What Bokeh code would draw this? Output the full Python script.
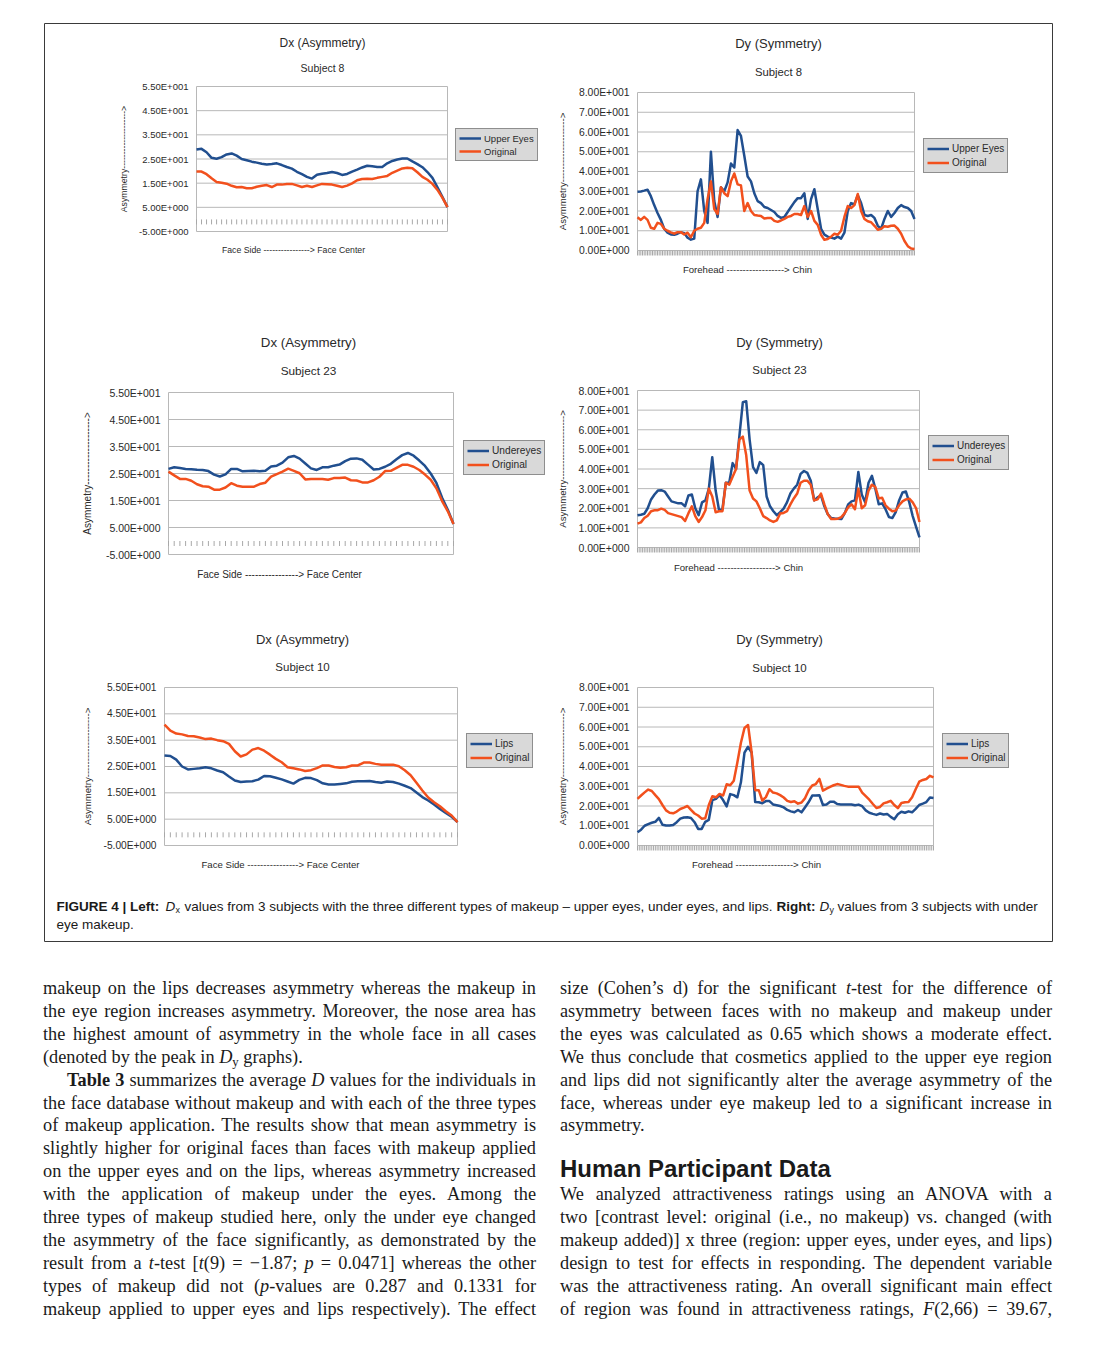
import math
from bokeh.plotting import figure
from bokeh.models import Range1d, Legend, LegendItem, Label, Div, Spacer, ColumnDataSource
from bokeh.layouts import column, row
from bokeh.core.properties import value
from bokeh.embed import file_html
from bokeh.resources import INLINE

# ---------------- data ----------------
dx_ticks = [-5, 5, 15, 25, 35, 45, 55]
dx_tick_labels = ["-5.00E+000", "5.00E+000", "1.50E+001", "2.50E+001",
                  "3.50E+001", "4.50E+001", "5.50E+001"]
dy_ticks = [0, 10, 20, 30, 40, 50, 60, 70, 80]
dy_tick_labels = ["0.00E+000", "1.00E+001", "2.00E+001", "3.00E+001", "4.00E+001",
                  "5.00E+001", "6.00E+001", "7.00E+001", "8.00E+001"]

s8_dx_upper = [28.9, 29.2, 27.8, 25.5, 25.1, 25.8, 26.9, 27.3, 26.4, 25.0,
               24.5, 23.9, 23.5, 23.0, 22.7, 22.9, 23.2, 22.5, 21.7, 21.0,
               19.7, 18.7, 17.6, 16.9, 18.5, 18.9, 19.2, 19.6, 19.2, 18.4,
               18.8, 19.8, 20.6, 21.5, 22.2, 22.0, 21.7, 21.7, 23.2, 24.2,
               24.8, 25.2, 25.2, 24.0, 22.9, 21.6, 19.6, 17.2, 13.3, 9.2, 5.1]
s8_dx_orig = [19.8, 19.8, 18.7, 17.0, 15.5, 15.2, 14.8, 13.9, 13.3, 13.4,
              12.9, 12.9, 13.5, 13.9, 14.2, 13.4, 14.4, 14.4, 14.7, 14.7,
              14.1, 13.4, 13.9, 13.4, 14.1, 14.7, 14.6, 14.4, 13.9, 13.4,
              14.0, 14.9, 16.2, 16.7, 16.8, 16.7, 17.2, 17.6, 18.0, 19.3,
              20.2, 21.1, 21.4, 21.2, 19.5, 17.6, 16.4, 14.7, 12.2, 8.9, 5.1]
s23_dx_under = [26.7, 27.3, 27.0, 26.7, 26.6, 26.4, 26.3, 25.9, 24.6, 23.9,
                24.7, 26.7, 26.7, 25.8, 25.9, 26.0, 25.8, 26.0, 27.6, 27.9,
                29.0, 31.0, 31.5, 30.5, 28.7, 26.9, 26.3, 27.3, 27.3, 27.9,
                28.3, 29.6, 30.5, 30.6, 30.1, 28.3, 26.5, 26.7, 27.5, 28.6,
                30.3, 31.8, 32.6, 31.6, 29.8, 27.8, 25.0, 21.5, 16.0, 11.6, 6.3]
s23_dx_orig = [25.7, 24.3, 23.0, 23.0, 22.3, 21.0, 20.3, 20.1, 19.0, 19.0,
               19.8, 21.4, 20.5, 20.1, 20.1, 20.1, 21.1, 21.6, 23.8, 24.8,
               25.7, 26.8, 26.0, 25.1, 22.8, 23.0, 23.0, 23.0, 22.7, 23.3,
               23.3, 23.5, 22.5, 22.4, 21.7, 21.7, 22.5, 23.8, 25.9, 26.0,
               27.1, 28.2, 28.2, 27.5, 26.3, 24.6, 22.7, 19.5, 14.8, 11.0, 6.3]
s10_dx_lips = [29.2, 29.0, 27.6, 25.0, 23.9, 24.1, 24.3, 24.7, 24.3, 23.5,
               22.8, 21.2, 19.7, 19.1, 19.3, 19.4, 20.0, 21.4, 21.3, 20.7,
               20.1, 19.3, 18.5, 19.9, 20.7, 20.6, 19.8, 18.6, 18.2, 18.2,
               18.4, 18.6, 19.2, 19.4, 19.4, 19.5, 19.1, 18.8, 19.3, 19.1,
               18.5, 17.7, 16.8, 15.1, 13.4, 12.1, 10.6, 8.9, 7.4, 5.9, 3.9]
s10_dx_orig = [40.9, 38.6, 37.5, 37.2, 36.6, 36.5, 36.0, 35.4, 35.6, 35.0,
               34.6, 33.6, 30.8, 28.8, 29.6, 31.4, 32.0, 31.0, 29.5, 27.9,
               26.6, 24.7, 24.3, 23.9, 23.3, 23.6, 24.4, 25.4, 25.4, 24.8,
               24.5, 24.7, 25.4, 25.4, 26.5, 26.5, 26.0, 25.7, 25.7, 25.7,
               25.1, 23.6, 21.7, 18.8, 15.9, 13.2, 11.4, 9.9, 8.0, 6.4, 3.9]

s8_dy_upper = [29.8, 29.9, 30.3, 30.8, 27.5, 23.0, 19.0, 15.5, 11.0, 9.0,
               8.1, 8.0, 8.5, 9.3, 8.8, 6.5, 5.5, 6.0, 30.0, 36.0,
               20.0, 14.0, 50.0, 25.0, 17.0, 32.0, 30.0, 34.5, 44.0, 42.0,
               61.0, 58.0, 48.0, 37.5, 35.0, 29.0, 25.0, 24.0, 22.0, 21.5,
               20.5, 19.5, 17.5, 16.5, 17.0, 19.5, 22.0, 24.5, 26.5, 26.5,
               29.0, 16.0, 26.0, 31.0, 21.0, 11.0, 8.0, 7.0, 6.5, 6.0,
               7.0, 6.0, 9.0, 20.0, 24.0, 23.5, 28.0, 24.0, 18.0, 17.5,
               18.0, 16.5, 12.5, 11.0, 16.0, 20.0, 17.0, 19.0, 21.5, 23.0,
               22.0, 21.5, 20.0, 16.0]
s8_dy_orig = [16.8, 15.5, 17.0, 15.5, 11.5, 11.0, 14.0, 13.5, 11.0, 10.0,
              9.2, 8.5, 9.3, 9.3, 8.1, 9.0, 6.7, 10.0, 11.0, 11.5,
              14.0, 26.0, 35.0, 21.0, 18.5, 32.0, 29.0, 27.5, 35.0, 39.0,
              33.5, 33.0, 20.0, 24.0, 20.0, 18.0, 17.7, 17.5, 16.2, 16.5,
              16.5, 15.0, 14.5, 15.2, 16.0, 17.0, 17.5, 18.5, 18.5, 18.0,
              22.5, 17.0, 20.0, 15.0, 13.0, 8.0, 5.4, 5.8, 7.0, 8.5,
              8.0, 10.0, 17.0, 22.5, 21.5, 23.0, 28.6, 20.0, 16.0, 14.8,
              14.3, 12.5, 10.5, 11.0, 12.3, 12.0, 12.5, 12.6, 11.0, 8.5,
              4.8, 2.2, 1.0, 0.8]
s23_dy_under = [16.4, 16.7, 17.2, 20.0, 24.5, 27.0, 29.0, 29.2, 28.5, 26.0,
                23.5, 23.0, 22.5, 22.5, 21.0, 26.5, 27.0, 20.0, 16.5, 23.0,
                24.0, 30.0, 46.0, 29.0, 19.0, 19.5, 33.0, 33.0, 43.0, 40.0,
                57.0, 74.0, 74.5, 55.0, 41.0, 38.0, 43.5, 42.0, 26.0, 21.0,
                18.5, 16.5, 18.0, 19.8, 23.0, 27.5, 30.0, 32.0, 37.5, 39.0,
                38.0, 34.0, 24.0, 25.5, 26.5, 21.0, 17.0, 15.0, 14.8, 14.7,
                14.5, 17.5, 22.0, 23.5, 24.0, 38.5, 27.0, 23.0, 33.0, 36.5,
                30.0, 22.0, 22.5, 19.5, 15.5, 15.0, 18.0, 24.0, 28.0, 28.5,
                23.0, 16.0, 10.5, 5.1]
s23_dy_orig = [12.2, 12.8, 15.0, 16.2, 18.5, 19.0, 19.0, 19.8, 19.2, 17.5,
               17.0, 16.5, 16.0, 15.5, 13.5, 17.5, 21.0, 16.0, 13.0, 15.5,
               19.0, 30.0, 26.0, 18.0, 18.5, 18.5, 33.0, 32.0, 36.0, 40.0,
               55.0, 56.5, 47.0, 29.0, 25.0, 23.5, 20.0, 16.0, 15.0, 13.8,
               13.0, 13.8, 17.3, 17.6, 18.5, 22.0, 25.0, 27.5, 33.0, 34.0,
               34.0, 32.0, 24.0, 24.5, 27.5, 22.0, 17.0, 14.5, 14.5, 14.7,
               15.5, 17.5, 20.5, 22.0, 19.5, 30.0, 20.0, 21.5, 29.0, 32.0,
               30.8, 25.0, 25.4, 21.5, 19.8, 18.5, 18.8, 21.5, 23.5, 24.5,
               24.9, 23.0, 20.0, 13.0]
s10_dy_lips = [6.7, 8.0, 10.0, 10.8, 11.5, 12.0, 14.0, 10.5, 10.1, 10.1,
               10.4, 11.8, 13.6, 14.2, 14.3, 13.9, 11.8, 8.4, 8.4, 12.0,
               13.0, 23.0, 23.6, 25.5, 23.0, 19.8, 26.0, 25.5, 24.4, 32.0,
               47.0, 50.0, 47.1, 22.0, 21.9, 21.4, 22.5, 22.5, 20.8, 20.4,
               20.0, 19.3, 18.0, 17.3, 16.8, 18.0, 16.8, 19.4, 22.0, 25.3,
               25.3, 25.5, 20.5, 20.8, 22.2, 22.2, 21.0, 20.8, 20.7, 20.8,
               20.8, 20.4, 20.7, 19.9, 17.8, 16.6, 16.0, 15.5, 16.2, 15.7,
               16.0, 14.5, 13.3, 15.8, 17.1, 16.6, 17.3, 16.8, 18.5, 20.5,
               21.2, 22.0, 24.3, 24.1]
s10_dy_orig = [23.6, 25.3, 26.9, 28.3, 27.6, 25.5, 23.5, 20.5, 17.8, 16.6,
               16.3, 17.2, 18.5, 19.2, 20.0, 18.0, 16.2, 15.2, 13.6, 13.8,
               20.5, 24.9, 24.4, 26.1, 25.3, 31.0, 30.5, 32.8, 42.0, 52.0,
               59.5, 61.0, 47.1, 28.0, 28.0, 22.8, 24.5, 28.5, 26.8, 26.4,
               25.5, 24.3, 22.6, 22.0, 22.4, 21.2, 21.8, 24.0, 28.0, 30.4,
               31.1, 33.7, 27.8, 28.8, 29.7, 30.5, 31.1, 30.7, 30.2, 29.8,
               29.8, 29.8, 29.8, 26.8, 25.0, 23.2, 21.0, 19.0, 19.5, 21.3,
               21.9, 22.6, 20.5, 18.9, 21.5, 21.9, 22.0, 24.4, 28.5, 32.3,
               33.2, 33.7, 35.3, 34.5]

# ---------------- style / layout ----------------
BLUE = "#214f8f"
ORANGE = "#f2501d"
GRID = "#b8b8b8"
TICKC = "#a8a8a8"
TXT = "#2a2a2a"
FONT = "Liberation Sans"
OX, OY = 44, 23          # page position of the box interior (top-left)
BOX_W, BOX_H = 1008, 918  # interior size of the bordered box

p = figure(width=BOX_W + 2, height=BOX_H + 2,
           x_range=Range1d(0, BOX_W), y_range=Range1d(BOX_H, 0),
           x_axis_location=None, y_axis_location=None,
           min_border_left=1, min_border_right=1, min_border_top=1, min_border_bottom=1,
           output_backend="svg", toolbar_location=None, tools="")
p.outline_line_color = "#3a3a3a"
p.outline_line_width = 1
p.background_fill_color = "white"
p.border_fill_color = "white"
p.xgrid.visible = False
p.ygrid.visible = False
p.grid.grid_line_color = None


def put_label(x, y, text, size, angle=0.0, align="center", style="normal", color=TXT):
    p.add_layout(Label(x=x - OX, y=y - OY, text=text, angle=angle, text_align=align,
                       text_baseline="middle", text_font=FONT, text_font_style=style,
                       text_font_size=f"{size}px", text_color=color))


def draw_chart(kind, title, subject, made_name, made, orig, g):
    n = len(made)
    idx = list(range(n))
    if kind == "dx":
        ticks, labels = dx_ticks, dx_tick_labels
        xlab = "Face Side " + "-" * 16 + "> Face Center"
        axis_y = 0
    else:
        ticks, labels = dy_ticks, dy_tick_labels
        xlab = "Forehead " + "-" * 18 + "> Chin"
        axis_y = dy_ticks[0]
    lo, hi = ticks[0], ticks[-1]
    fx0, fy0, fx1, fy1 = g["frame"]
    sub = p.subplot(x_source=Range1d(0, n - 1), y_source=Range1d(lo, hi),
                    x_target=Range1d(fx0 - OX, fx1 - OX), y_target=Range1d(fy1 - OY, fy0 - OY))
    # grid lines and plot-area border
    sub.segment(x0=0, y0=ticks, x1=n - 1, y1=ticks, line_color=GRID, line_width=1)
    sub.segment(x0=[0, n - 1], y0=lo, x1=[0, n - 1], y1=hi, line_color=GRID, line_width=1)
    # category tick marks
    sub.ray(x=idx, y=axis_y, length=5, length_units="screen", angle=-math.pi / 2,
            line_color=TICKC, line_width=1)
    if kind == "dy":
        sub.ray(x=[i + 0.5 for i in idx[:-1]], y=axis_y, length=5, length_units="screen",
                angle=-math.pi / 2, line_color=TICKC, line_width=1)
    # value tick labels
    sub.text(x=0, y=ticks, text=labels, x_offset=-8, text_align="right", text_baseline="middle",
             text_font=value(FONT), text_font_size=value(f"{g['tick']}px"), text_color=TXT)
    src = ColumnDataSource(dict(i=idx, made=made, orig=orig))
    r1 = sub.line("i", "made", source=src, line_color=BLUE, line_width=2.5, line_join="round")
    r2 = sub.line("i", "orig", source=src, line_color=ORANGE, line_width=2.5, line_join="round")

    lx, lb = g["legend"]
    leg = Legend(items=[LegendItem(label=made_name, renderers=[r1]),
                        LegendItem(label="Original", renderers=[r2])],
                 location=(lx - OX, OY + BOX_H - lb), margin=0, padding=3, spacing=1,
                 label_height=g["lh"], glyph_height=g["lh"], glyph_width=22,
                 label_standoff=3, label_text_font=FONT,
                 label_text_font_size=f"{g['leg']}px", label_text_color=TXT,
                 border_line_color="#444444", border_line_width=1.5,
                 background_fill_color="#d9d9d9", background_fill_alpha=1.0)
    p.add_layout(leg)

    tx, ty = g["title"]
    put_label(tx, ty, title, g["tsize"])
    put_label(tx, g["subj_y"], subject, g["ssize"])
    put_label(g["ylab_x"], (fy0 + fy1) / 2, "Asymmetry" + "-" * 20 + ">", g["asize"], math.pi / 2)
    xx, xy = g["xlab"]
    put_label(xx, xy, xlab, g["asize"])


geo = {
    "TL": dict(frame=(196, 86, 447, 231), title=(322, 42), subj_y=67,
               ylab_x=123, xlab=(293, 249), legend=(455, 161), tick=9.5, tsize=12, ssize=10.5,
               asize=8.7, leg=9.5, lh=12),
    "TR": dict(frame=(637, 92, 914, 250), title=(778, 43), subj_y=71,
               ylab_x=562, xlab=(747, 269), legend=(923, 173), tick=10.4, tsize=13, ssize=11.3,
               asize=9.6, leg=10, lh=13),
    "ML": dict(frame=(168, 392, 453, 554), title=(308, 342), subj_y=370,
               ylab_x=87, xlab=(279, 574), legend=(463, 475), tick=10.5, tsize=13.3, ssize=11.8,
               asize=10, leg=10.2, lh=13),
    "MR": dict(frame=(637, 390, 919, 547), title=(779, 342), subj_y=369,
               ylab_x=562, xlab=(738, 567), legend=(928, 470), tick=10.5, tsize=13, ssize=11.5,
               asize=9.6, leg=10, lh=13),
    "BL": dict(frame=(164, 687, 457, 845), title=(302, 639), subj_y=666,
               ylab_x=87, xlab=(280, 864), legend=(466, 768), tick=10.2, tsize=13, ssize=11.5,
               asize=9.6, leg=10, lh=13),
    "BR": dict(frame=(637, 687, 933, 845), title=(779, 639), subj_y=667,
               ylab_x=562, xlab=(756, 864), legend=(942, 768), tick=10.4, tsize=13, ssize=11.5,
               asize=9.6, leg=10, lh=13),
}

draw_chart("dx", "Dx (Asymmetry)", "Subject 8", "Upper Eyes", s8_dx_upper, s8_dx_orig, geo["TL"])
draw_chart("dy", "Dy (Symmetry)", "Subject 8", "Upper Eyes", s8_dy_upper, s8_dy_orig, geo["TR"])
draw_chart("dx", "Dx (Asymmetry)", "Subject 23", "Undereyes", s23_dx_under, s23_dx_orig, geo["ML"])
draw_chart("dy", "Dy (Symmetry)", "Subject 23", "Undereyes", s23_dy_under, s23_dy_orig, geo["MR"])
draw_chart("dx", "Dx (Asymmetry)", "Subject 10", "Lips", s10_dx_lips, s10_dx_orig, geo["BL"])
draw_chart("dy", "Dy (Symmetry)", "Subject 10", "Lips", s10_dy_lips, s10_dy_orig, geo["BR"])

# caption (inside the bordered box)
CAP = 13.5
CY1, CY2 = 906, 924
put_label(56, CY1, "FIGURE 4 | Left:", CAP, align="left", style="bold", color="#1a1a1a")
put_label(165, CY1, "D", CAP, align="left", style="italic", color="#1a1a1a")
put_label(175, CY1 + 3, "x", 9, align="left", color="#1a1a1a")
put_label(184, CY1, "values from 3 subjects with the three different types of makeup \u2013 "
          "upper eyes, under eyes, and lips.", CAP, align="left", color="#1a1a1a")
put_label(776, CY1, "Right:", CAP, align="left", style="bold", color="#1a1a1a")
put_label(819, CY1, "D", CAP, align="left", style="italic", color="#1a1a1a")
put_label(829, CY1 + 3, "y", 9, align="left", color="#1a1a1a")
put_label(837, CY1, "values from 3 subjects with under", CAP, align="left", color="#1a1a1a")
put_label(56, CY2, "eye makeup.", CAP, align="left", color="#1a1a1a")

# ---------------- body text ----------------
J = 'style="text-align:justify;text-align-last:justify;"'
JI = 'style="text-align:justify;text-align-last:justify;text-indent:24px;"'
N = 'style="text-align:left;"'
SUBY = '<sub style="font-size:70%;line-height:0;vertical-align:-3px">y</sub>'

left_lines = [
    (J, "makeup on the lips decreases asymmetry whereas the makeup in"),
    (J, "the eye region increases asymmetry. Moreover, the nose area has"),
    (J, "the highest amount of asymmetry in the whole face in all cases"),
    (N, "(denoted by the peak in <i>D</i>" + SUBY + " graphs)."),
    (JI, "<b>Table 3</b> summarizes the average <i>D</i> values for the individuals in"),
    (J, "the face database without makeup and with each of the three types"),
    (J, "of makeup application. The results show that mean asymmetry is"),
    (J, "slightly higher for original faces than faces with makeup applied"),
    (J, "on the upper eyes and on the lips, whereas asymmetry increased"),
    (J, "with the application of makeup under the eyes. Among the"),
    (J, "three types of makeup studied here, only the under eye changed"),
    (J, "the asymmetry of the face significantly, as demonstrated by the"),
    (J, "result from a <i>t</i>-test [<i>t</i>(9) = &#8722;1.87; <i>p</i> = 0.0471] whereas the other"),
    (J, "types of makeup did not (<i>p</i>-values are 0.287 and 0.1331 for"),
    (J, "makeup applied to upper eyes and lips respectively). The effect"),
]
right_lines_a = [
    (J, "size (Cohen&#8217;s d) for the significant <i>t</i>-test for the difference of"),
    (J, "asymmetry between faces with no makeup and makeup under"),
    (J, "the eyes was calculated as 0.65 which shows a moderate effect."),
    (J, "We thus conclude that cosmetics applied to the upper eye region"),
    (J, "and lips did not significantly alter the average asymmetry of the"),
    (J, "face, whereas under eye makeup led to a significant increase in"),
    (N, "asymmetry."),
]
right_lines_b = [
    (J, "We analyzed attractiveness ratings using an ANOVA with a"),
    (J, "two [contrast level: original (i.e., no makeup) vs. changed (with"),
    (J, "makeup added)] x three (region: upper eyes, under eyes, and lips)"),
    (J, "design to test for effects in responding. The dependent variable"),
    (J, "was the attractiveness rating. An overall significant main effect"),
    (J, "of region was found in attractiveness ratings, <i>F</i>(2,66) = 39.67,"),
]


def body_style(w):
    return (f"width:{w}px;font-family:'Liberation Serif',serif;font-size:18.3px;"
            "line-height:22.9px;color:#1a1a1a;")


def lines_html(lines):
    return "".join(f"<div {s}>{t}</div>" for s, t in lines)


left_html = f'<div style="{body_style(493)}">' + lines_html(left_lines) + "</div>"
right_html = (f'<div style="{body_style(492)}">' + lines_html(right_lines_a)
              + '<div style="font-family:\'Liberation Sans\',sans-serif;font-weight:bold;'
                'font-size:24px;line-height:29px;margin-top:17px;color:#1a1a1a;">'
                'Human Participant Data</div>'
              + lines_html(right_lines_b) + "</div>")
left_div = Div(text=left_html, width=493, height=346, margin=0)
right_div = Div(text=right_html, width=492, height=346, margin=0)

root = column(
    Spacer(width=10, height=22),
    row(Spacer(width=43, height=10), p),
    Spacer(width=10, height=35),
    row(Spacer(width=43, height=10), left_div, Spacer(width=24, height=10), right_div),
)

open("out.html", "w").write(file_html(root, INLINE))
